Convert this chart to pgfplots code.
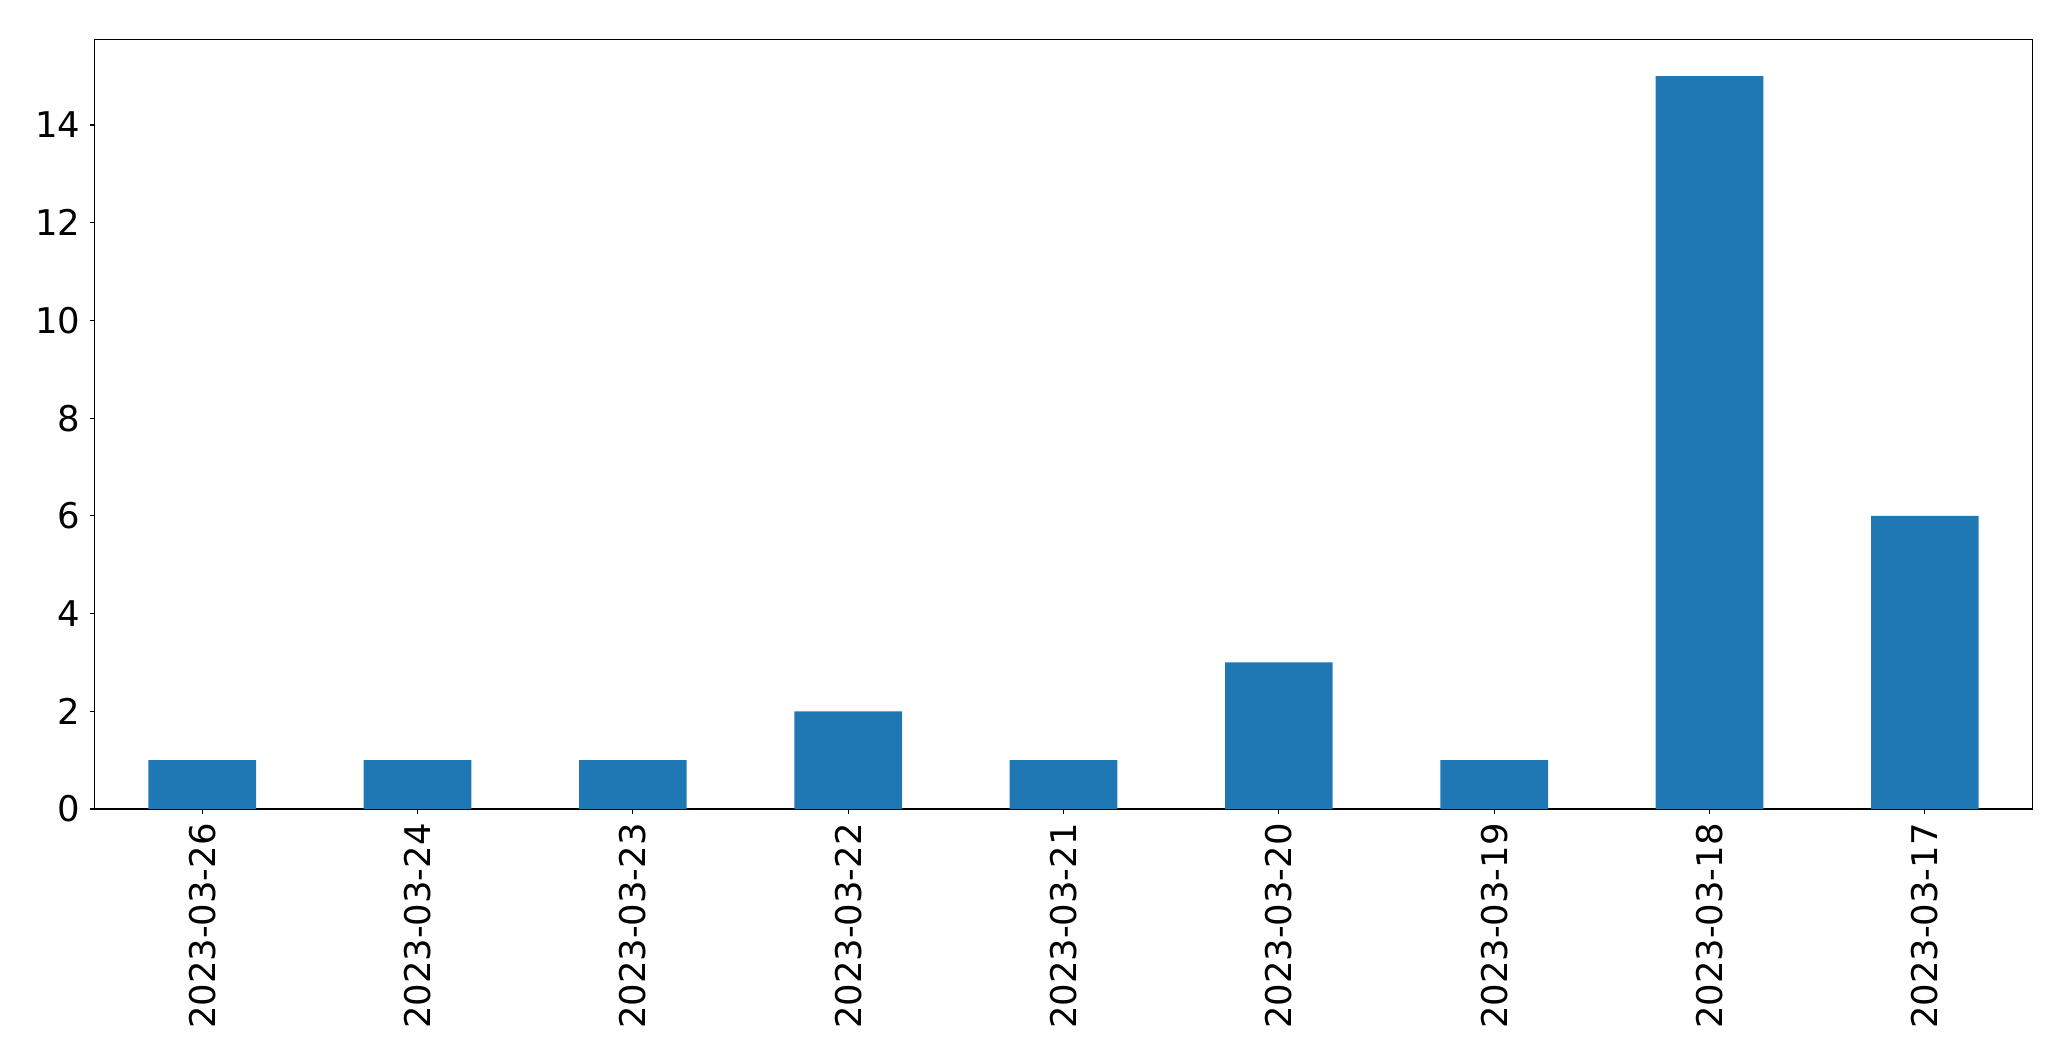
\documentclass[border=0pt]{standalone}
\usepackage{fontspec}
\setmainfont{DejaVu Sans}
\usepackage{pgfplots}
\pgfplotsset{compat=1.18}
\definecolor{mplblue}{HTML}{1F77B4}

\begin{document}
\begin{tikzpicture}
\begin{axis}[
  scale only axis,
  width=969pt, height=384.75pt,
  xmin=-0.5, xmax=8.5, ymin=0, ymax=15.75,
  ybar, bar width=0.5,
  xtick={0,...,8},
  xticklabels={2023-03-26,2023-03-24,2023-03-23,2023-03-22,2023-03-21,2023-03-20,2023-03-19,2023-03-18,2023-03-17},
  ytick={0,2,...,14},
  xtick pos=bottom, ytick pos=left,
  tick align=outside, major tick length=2.43pt,
  tick style={black, line width=0.56pt},
  axis line style={line width=0.56pt},
  tick label style={font=\fontsize{17.7}{21}\selectfont},
  xticklabel style={rotate=90, anchor=east, inner sep=4.5pt},
  yticklabel style={inner sep=4.5pt},
  /pgf/number format/assume math mode=true,
]
\addplot[fill=mplblue, draw=none] coordinates {
  (0,1) (1,1) (2,1) (3,2) (4,1) (5,3) (6,1) (7,15) (8,6)
};
\coordinate (ll) at (rel axis cs:0,0);
\coordinate (ur) at (rel axis cs:1,1);
\end{axis}
\pgfresetboundingbox
\path[use as bounding box] ([xshift=-47.25pt,yshift=-126pt]ll) rectangle ([xshift=19.25pt,yshift=19.75pt]ur);
\end{tikzpicture}
\end{document}
